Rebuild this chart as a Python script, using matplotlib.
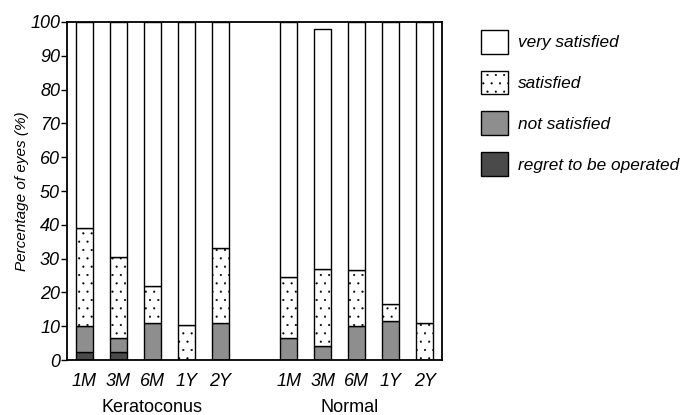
import matplotlib.pyplot as plt
import matplotlib.transforms as mtransforms

plt.rcParams['font.family'] = ['Liberation Sans', 'DejaVu Sans']
plt.rcParams['hatch.linewidth'] = 0.3

periods = ["1M", "3M", "6M", "1Y", "2Y"]
groups = ["Keratoconus", "Normal"]
labels = ["regret to be operated", "not satisfied", "satisfied", "very satisfied"]

# stacked shares (%), keratoconus then normal, bottom to top
regret = [2.5, 2.5, 0, 0, 0, 0, 0, 0, 0, 0]
not_sat = [7.5, 4, 11, 0, 11, 6.5, 4, 10, 11.5, 0]
sat = [29, 24, 11, 10.5, 22, 18, 23, 16.5, 5, 11]
very_sat = [61, 69.5, 78, 89.5, 67, 75.5, 71, 73.5, 83.5, 89]

x = [0, 1, 2, 3, 4, 6, 7, 8, 9, 10]

fig = plt.figure(figsize=(6.86, 4.15), dpi=100)
ax = fig.add_axes([0.0977, 0.1325, 0.5466, 0.8145])

series = [regret, not_sat, sat, very_sat]
colors = ["#4a4a4a", "#8e8e8e", "white", "white"]
hatches = [None, None, "..", None]
bottom = [0] * len(x)
handles = []
for vals, c, h, lab in zip(series, colors, hatches, labels):
    b = ax.bar(x, vals, 0.5, bottom=bottom, color=c, edgecolor="black",
               linewidth=1.0, hatch=h, label=lab)
    handles.append(b)
    bottom = [p + q for p, q in zip(bottom, vals)]

ax.set_xlim(-0.5, 10.5)
ax.set_ylim(0, 100)
ax.set_yticks(range(0, 101, 10))
ax.set_yticklabels([str(v) for v in range(0, 101, 10)], fontstyle="italic", fontsize=13)
ax.set_xticks(x)
ax.set_xticklabels(periods * 2, fontstyle="italic", fontsize=13)
ax.tick_params(axis="x", length=0, pad=9)
ax.tick_params(axis="y", direction="out", length=4, width=1, pad=1)
for s in ax.spines.values():
    s.set_linewidth(1.3)

ax.set_ylabel("Percentage of eyes (%)", fontstyle="italic", fontsize=11, labelpad=1)

trans = mtransforms.blended_transform_factory(ax.transData, ax.transAxes)
ax.text(2, -0.115, groups[0], transform=trans, ha="center", va="top", fontsize=13)
ax.text(7.8, -0.115, groups[1], transform=trans, ha="center", va="top", fontsize=13)

leg = ax.legend(handles[::-1], labels[::-1], loc="upper left",
                bbox_to_anchor=(1.104, 0.976), frameon=False, fontsize=12.4,
                handlelength=1.55, handleheight=1.72, labelspacing=1.0,
                handletextpad=0.62, borderaxespad=0, borderpad=0)
for t in leg.get_texts():
    t.set_fontstyle("italic")

fig.savefig("out.png", dpi=100)
